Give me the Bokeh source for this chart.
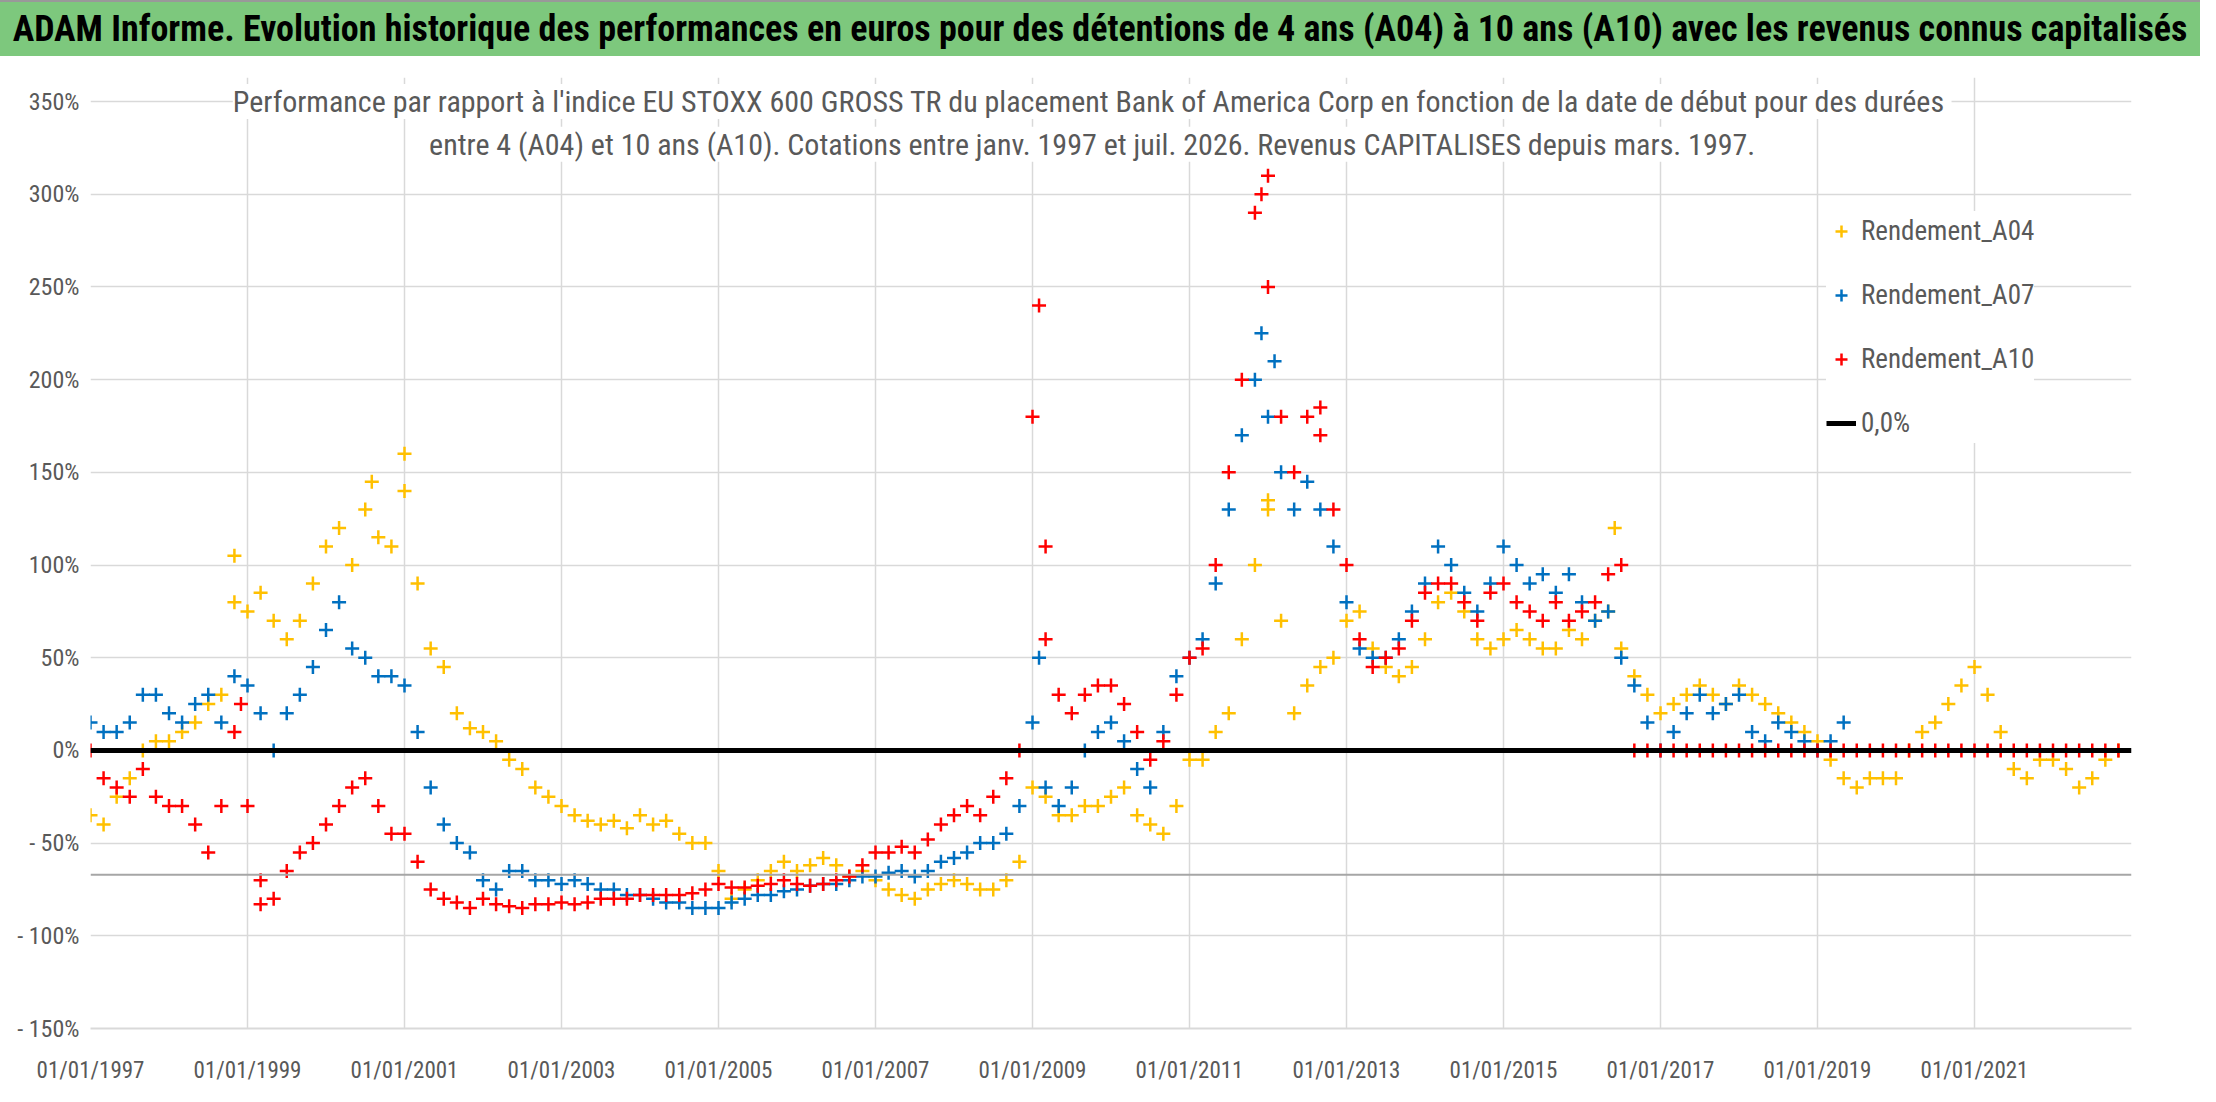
import pandas as pd
from bokeh.plotting import figure
from bokeh.models import Div, Span, Legend, LegendItem, Label, FixedTicker
from bokeh.layouts import column
from bokeh.embed import file_html
from bokeh.resources import INLINE

TITLE = "ADAM Informe. Evolution historique des performances en euros pour des détentions de 4 ans (A04) à 10 ans (A10) avec les revenus connus capitalisés"
SUB1 = "Performance par rapport à l'indice EU STOXX 600 GROSS TR  du placement Bank of America Corp en fonction de la date de début pour des durées"
SUB2 = "entre 4 (A04) et 10 ans (A10). Cotations entre janv. 1997 et juil. 2026. Revenus CAPITALISES depuis mars. 1997."

# values in %, one every two months from Jan 1997
a04 = [-35,-40,-25,-15,0,5, 5,10,15,25,30,80, 75,85,70,60,70,90, 110,120,100,130,115,110,
       140,90,55,45,20,12, 10,5,-5,-10,-20,-25, -30,-35,-38,-40,-38,-42, -35,-40,-38,-45,-50,-50,
       -65,-80,-75,-70,-65,-60, -65,-62,-58,-62,-68,-65, -70,-75,-78,-80,-75,-72, -70,-72,-75,-75,-70,-60,
       -20,-25,-35,-35,-30,-30, -25,-20,-35,-40,-45,-30, -5,-5,10,20,60,100, 130,70,20,35,45,50,
       70,75,55,45,40,45, 60,80,85,75,60,55, 60,65,60,55,55,65, 60,70,75,55,40,30,
       20,25,30,35,30,25, 35,30,25,20,15,10, 5,-5,-15,-20,-15,-15, -15,0,10,15,25,35,
       45,30,10,-10,-15,-5, -5,-10,-20,-15,-5,0]
a07 = [15,10,10,15,30,30, 20,15,25,30,15,40, 35,20,0,20,30,45, 65,80,55,50,40,40,
       35,10,-20,-40,-50,-55, -70,-75,-65,-65,-70,-70, -72,-70,-72,-75,-75,-78, -78,-80,-82,-82,-85,-85,
       -85,-82,-80,-78,-78,-76, -75,-73,-72,-72,-70,-68, -68,-66,-65,-68,-65,-60, -58,-55,-50,-50,-45,-30,
       15,-20,-30,-20,0,10, 15,5,-10,-20,10,40, 50,60,90,130,170,200, 180,150,130,145,130,110,
       80,55,50,50,60,75, 90,110,100,85,75,90, 110,100,90,95,85,95, 80,70,75,50,35,15,
       0,10,20,30,20,25, 30,10,5,15,10,5, 0,5,15]
a10 = [0,-15,-20,-25,-10,-25, -30,-30,-40,-55,-30,10, -30,-70,-80,-65,-55,-50, -40,-30,-20,-15,-30,-45,
       -45,-60,-75,-80,-82,-85, -80,-83,-84,-85,-83,-83, -82,-83,-82,-80,-80,-80, -78,-78,-78,-78,-77,-75,
       -72,-74,-74,-73,-72,-70, -72,-73,-72,-70,-68,-62, -55,-55,-52,-55,-48,-40, -35,-30,-35,-25,-15,0,
       180,60,30,20,30,35, 35,25,10,-5,5,30, 50,55,100,150,200,290, 250,180,150,180,170,130,
       100,60,45,50,55,70, 85,90,90,80,70,85, 90,80,75,70,80,70, 75,80,95,100] + [0]*38
# additional isolated extremes
peak04_dates = ["1998-11", "2001-01", "2000-08", "2012-01", "2016-06"]
peak04_vals = [105, 160, 145, 135, 120]
peak07_dates = ["2011-12", "2012-02", "2009-02"]
peak07_vals = [225, 210, 50]
peak10_dates = ["2009-02", "2009-03", "2012-01", "2011-12", "2012-09", "1998-12", "1999-03"]
peak10_vals = [240, 110, 310, 300, 185, 25, -83]

y_ticks = [350, 300, 250, 200, 150, 100, 50, 0, -50, -100, -150]
y_labels = ["350%", "300%", "250%", "200%", "150%", "100%", "50%", "0%", "- 50%", "- 100%", "- 150%"]
x_tick_years = list(range(1997, 2022, 2))

def yr(dates):
    d = pd.to_datetime(dates)
    return list(d.year + (d.month - 1) / 12 + (d.day - 1) / 365)

def bimonthly(n):
    return yr(pd.date_range("1997-01-01", periods=n, freq="2MS"))

FONT = "Liberation Sans Narrow, Roboto Condensed, Open Sans, sans-serif"
W = 2200
header = Div(text=f"<div style='width:{W}px;height:56px;background:#7DC87D;border-top:2px solid #999;"
             f"font-family:{FONT};font-weight:bold;font-size:36px;line-height:54px;color:#000;"
             f"text-align:center;white-space:nowrap'>{TITLE}</div>", width=W, height=56,
             styles={"margin": "0"})

YTOP = 363
p = figure(width=W, height=1030, x_range=(1997, 2023), y_range=(-150, YTOP),
           output_backend="svg", toolbar_location=None,
           min_border_left=90, min_border_right=69, min_border_top=21, min_border_bottom=48)
p.outline_line_color = None
p.background_fill_color = "white"
p.grid.grid_line_color = "#D9D9D9"
p.grid.grid_line_width = 1.5
p.yaxis.ticker = FixedTicker(ticks=y_ticks)
p.yaxis.major_label_overrides = dict(zip(y_ticks, y_labels))
p.xaxis.ticker = FixedTicker(ticks=x_tick_years)
p.xaxis.major_label_overrides = {y: f"01/01/{y}" for y in x_tick_years}
for ax in (p.xaxis, p.yaxis):
    ax.major_tick_line_color = None
    ax.minor_tick_line_color = None
    ax.major_label_text_font = FONT
    ax.major_label_text_font_size = "23px"
    ax.major_label_text_color = "#595959"
p.yaxis.axis_line_color = None
p.yaxis.major_label_text_font_size = "24px"
p.xaxis.axis_line_color = "#D9D9D9"
p.xaxis.axis_line_width = 2
p.xaxis.major_label_standoff = 22

p.add_layout(Span(location=-67, dimension="width", line_color="#A6A6A6", line_width=2))

kw = dict(marker="cross", size=14, line_width=2.5)
r04 = p.scatter(bimonthly(len(a04)) + yr(peak04_dates), a04 + peak04_vals, color="#FFC000", **kw)
r07 = p.scatter(bimonthly(len(a07)) + yr(peak07_dates), a07 + peak07_vals, color="#0070C0", **kw)
r10 = p.scatter(bimonthly(len(a10)) + yr(peak10_dates), a10 + peak10_vals, color="#FF0000", **kw)
rz = p.line([1997, 2023], [0, 0], color="black", line_width=5)

for txt, yv in ((SUB1, 350), (SUB2, 327)):
    p.add_layout(Label(x=2009.76, y=yv, text=txt, text_align="center", text_baseline="middle",
                       text_font=FONT, text_font_size="30px", text_color="#595959",
                       background_fill_color="white", background_fill_alpha=1.0))

leg = Legend(items=[LegendItem(label="Rendement_A04", renderers=[r04]),
                    LegendItem(label="Rendement_A07", renderers=[r07]),
                    LegendItem(label="Rendement_A10", renderers=[r10]),
                    LegendItem(label="0,0%", renderers=[rz])],
             location=(1736, 585), border_line_color=None, background_fill_color="white",
             background_fill_alpha=1.0, label_text_font=FONT, label_text_font_size="27px",
             label_text_color="#595959", glyph_width=30, glyph_height=40, spacing=24,
             padding=14, margin=0)
p.add_layout(leg)

out = column(header, p, spacing=0)
open("out.html", "w").write(file_html(out, INLINE))
